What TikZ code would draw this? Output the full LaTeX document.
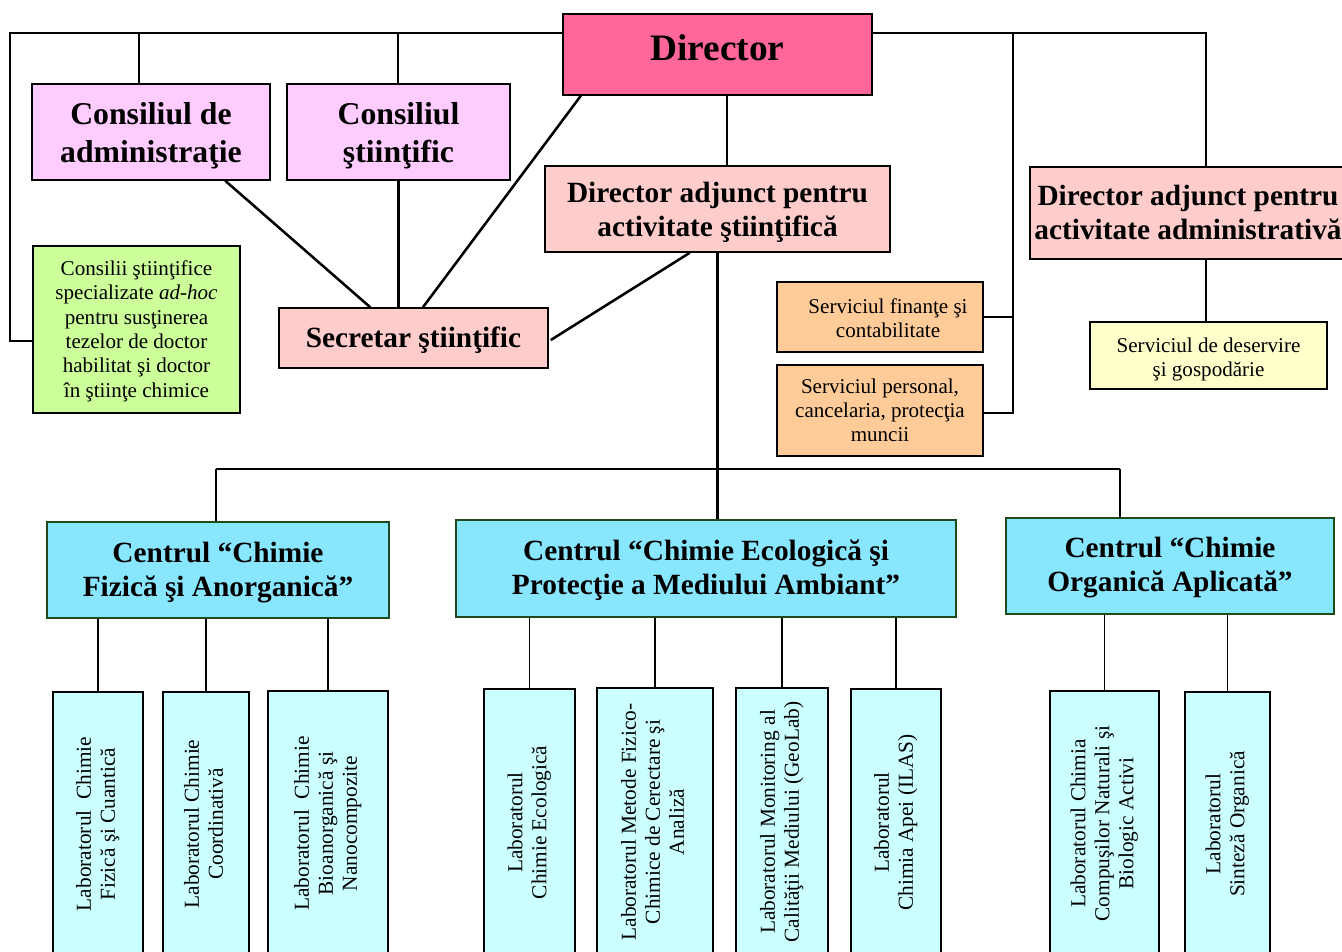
\documentclass[tikz,border=0pt]{standalone}
\usepackage{graphicx}
\usepackage{fontspec}
\setmainfont{Liberation Serif}
\usetikzlibrary{calc}
\definecolor{cDir}{HTML}{FF6699}
\definecolor{cCons}{HTML}{FFCCFF}
\definecolor{cDA}{HTML}{FFCCCC}
\definecolor{cGrn}{HTML}{CCFF99}
\definecolor{cOr}{HTML}{FFCC99}
\definecolor{cYel}{HTML}{FFFFCC}
\definecolor{cCtr}{HTML}{88E6FF}
\definecolor{cLab}{HTML}{CCFFFF}
\definecolor{cCtrB}{HTML}{1E4A1E}
\newcommand\fDir{\fontsize{28}{32}\selectfont\bfseries}
\newcommand\fCons{\fontsize{23.8}{28.5}\selectfont\bfseries}
\newcommand\fHead{\fontsize{22}{25.5}\selectfont\bfseries}
\newcommand\fSmall{\fontsize{15.8}{18.2}\selectfont}
\newcommand\fLab{\fontsize{16}{18}\selectfont}
\tikzset{
  box/.style={draw=black, line width=1.2pt, inner sep=0pt, align=center},
  ctr/.style={box, draw=cCtrB, fill=cCtr, font=\fHead},
  lab/.style={box, fill=cLab, font=\fLab},
  conn/.style={line width=1.9pt},
  lconn/.style={line width=1.2pt},
}
\newcommand\mkbox[7]{\node[#6,minimum width={(#4-#2)*0.75pt},minimum height={(#5-#3)*0.75pt}] (#1) at ({(#2+#4)/2},{(#3+#5)/2}) {#7};}
% rotated lab text, pushed a little towards the top of its box
\newcommand\rt[1]{\rotatebox{90}{\hspace*{9pt}\begin{tabular}{@{}c@{}}#1\end{tabular}}}
% vertically shifted block of centred lines (extent kept, ink moved)
\newcommand\rb[2]{\raisebox{#1}[\height][\depth]{\begin{tabular}{@{}c@{}}#2\end{tabular}}}
\begin{document}
\begin{tikzpicture}[x=0.75pt,y=-0.75pt]
\fill[white] (0,0) rectangle (1342,952);
\useasboundingbox (0,0) rectangle (1342,952);

% top level boxes
\mkbox{dir}{563}{14}{872}{95}{box,fill=cDir,font=\fDir}{\rb{2pt}{Director}}
\mkbox{ca}{32}{84}{270}{180}{box,fill=cCons,font=\fCons}{\rb{-3pt}{Consiliul de\\administraţie}}
\mkbox{cs}{287}{84}{510}{180}{box,fill=cCons,font=\fCons}{\rb{-3pt}{Consiliul\\ştiinţific}}
\mkbox{das}{545}{166}{890}{252}{box,fill=cDA,font=\fHead}{\rb{-3pt}{Director adjunct pentru\\activitate ştiinţifică}}
\mkbox{daa}{1030}{167}{1346}{259}{box,fill=cDA,font=\fHead}{\rb{-2pt}{Director adjunct pentru\\activitate administrativă}}
\mkbox{grn}{33}{246}{240}{413}{box,fill=cGrn,font=\fSmall}{\rb{-1.5pt}{Consilii ştiinţifice\\specializate \textit{ad-hoc}\\pentru susţinerea\\tezelor de doctor\\habilitat şi doctor\\în ştiinţe chimice}}
\mkbox{sec}{279}{308}{548}{368}{box,fill=cDA,font=\fHead}{\rb{-2pt}{Secretar ştiinţific}}
\mkbox{sf}{777}{282}{983}{352}{box,fill=cOr,font=\fSmall}{\hspace*{12pt}\rb{-3pt}{Serviciul finanţe şi\\contabilitate}}
\mkbox{sp}{777}{365}{983}{456}{box,fill=cOr,font=\fSmall}{\rb{-1.5pt}{Serviciul personal,\\cancelaria, protecţia\\muncii}}
\mkbox{sd}{1090}{322}{1327}{389}{box,fill=cYel,font=\fSmall}{\rb{-3pt}{Serviciul de deservire\\şi gospodărie}}

% centres
\mkbox{c1}{47}{522}{389}{618}{ctr}{\rb{-2pt}{Centrul “Chimie\\Fizică şi Anorganică”}}
\mkbox{c2}{456}{520}{956}{617}{ctr}{\rb{-1.5pt}{Centrul “Chimie Ecologică şi\\Protecţie a Mediului Ambiant”}}
\mkbox{c3}{1006}{518}{1334}{614}{ctr}{\rb{-1.5pt}{Centrul “Chimie\\Organică Aplicată”}}

% laboratories
\mkbox{l1}{53}{692}{143}{968}{lab}{\rt{Laboratorul~ Chimie\\Fizică şi Cuantică}}
\mkbox{l2}{163}{692}{249}{968}{lab}{\rt{Laboratorul Chimie\\Coordinativă}}
\mkbox{l3}{268}{691}{388}{968}{lab}{\rt{Laboratorul~ Chimie\\Bioanorganică şi\\Nanocompozite}}
\mkbox{l4}{484}{689}{575}{968}{lab}{\rt{Laboratorul\\Chimie Ecologică}}
\mkbox{l5}{597}{688}{713}{968}{lab}{\rt{Laboratorul Metode Fizico-\\Chimice de Cerectare şi\\Analiză}}
\mkbox{l6}{736}{688}{828}{968}{lab}{\rt{Laboratorul Monitoring al\\Calităţii Mediului (GeoLab)}}
\mkbox{l7}{851}{689}{941}{968}{lab}{\rt{Laboratorul\\Chimia Apei (ILAS)}}
\mkbox{l8}{1050}{691}{1159}{968}{lab}{\rt{Laboratorul Chimia\\Compuşilor Naturali şi\\Biologic Activi}}
\mkbox{l9}{1185}{692}{1270}{968}{lab}{\rt{Laboratorul\\Sinteză Organică}}

% junction coordinates
\coordinate (tl) at (10,33);
\coordinate (gl) at (10,341);
\coordinate (tca) at (139,33);
\coordinate (tcs) at (398,33);
\coordinate (tm) at (1013,33);
\coordinate (tmb) at (1013,413);
\coordinate (tr) at (1206,33);
\coordinate (dx) at (727,130);
\coordinate (h1) at (216,469);
\coordinate (h3) at (1120,469);

% top connectors
\draw[conn] (dir.west |- tl) -- (tl) -- (gl) -- (grn.west |- gl);
\draw[conn] (tca) -- (tca |- ca.north);
\draw[conn] (tcs) -- (tcs |- cs.north);
\draw[conn] (dir.east |- tr) -- (tr) -- (tr |- daa.north);
\draw[conn] (tm) -- (tmb) -- (sp.east |- tmb);
\draw[conn] (sf.east) -- (sf.east -| tm);
\draw[conn] (dx |- dir.south) -- (dx |- das.north);
\draw[conn] (daa.south -| tr) -- (sd.north -| tr);

% to secretar
\draw[conn] ($(ca.south west)!0.81!(ca.south east)$) -- ($(sec.north west)!0.34!(sec.north east)$);
\draw[conn] (cs.south) -- (cs.south |- sec.north);
\draw[conn] ($(dir.south west)!0.06!(dir.south east)$) -- ($(sec.north west)!0.535!(sec.north east)$);
\draw[conn] ($(das.south west)!0.42!(das.south east)$) -- ($(sec.east)+(2,2)$);

% to centres
\draw[conn] (das.south) -- (das.south |- c2.north);
\draw[conn] (h1) -- (h3);
\draw[conn] (h1) -- (h1 |- c1.north);
\draw[conn] (h3) -- (h3 |- c3.north);

% to labs
\foreach \l/\c in {l1/c1,l2/c1,l3/c1,l4/c2,l5/c2,l6/c2,l7/c2,l8/c3,l9/c3}
  \draw[lconn] (\l.north) -- (\l.north |- \c.south);
\end{tikzpicture}
\end{document}
